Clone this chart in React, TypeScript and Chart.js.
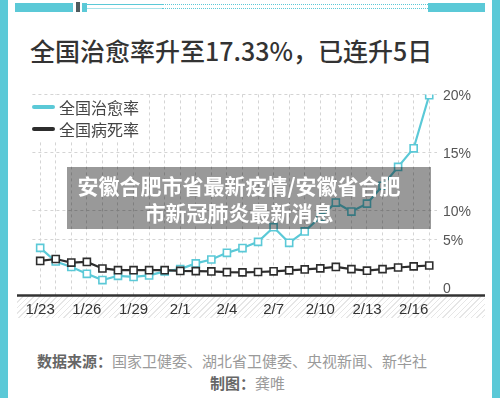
import React, { useEffect, useRef } from 'react';
import { Chart, registerables, LinearScale } from 'chart.js';

// ---------- data ----------
const DATES = [
  '1/23', '1/24', '1/25', '1/26', '1/27', '1/28', '1/29', '1/30', '1/31',
  '2/1', '2/2', '2/3', '2/4', '2/5', '2/6', '2/7', '2/8', '2/9', '2/10',
  '2/11', '2/12', '2/13', '2/14', '2/15', '2/16', '2/17',
];
// 全国治愈率 (%)
const CURE_RATE = [
  4.11, 2.68, 2.1, 1.39, 0.73, 1.18, 1.06, 1.22, 1.65,
  1.88, 2.48, 2.89, 3.59, 4.09, 4.74, 7.08, 4.64, 6.36, 8.81,
  10.65, 9.75, 10.56, 12.11, 13.75, 15.36, 19.93,
];
// 全国病死率 (%)
const DEATH_RATE = [
  2.74, 2.94, 2.57, 2.64, 1.95, 1.77, 1.77, 1.77, 1.77,
  1.69, 1.67, 1.64, 1.56, 1.54, 1.58, 1.65, 1.75, 1.85, 1.96,
  2.11, 1.88, 1.72, 1.88, 2.05, 2.17, 2.26,
];
const Y_TICKS = [0, 5, 10, 15, 20];
const SERIES_NAMES = ['全国治愈率', '全国病死率'];

// The printed axis is not evenly spaced: value -> fraction of the plot height
const Y_STOPS: [number, number][] = [
  [-0.83, 0],
  [0, 0.0396],
  [5, 0.2772],
  [10, 0.4233],
  [15, 0.7104],
  [20, 1],
];

const CYAN = '#5bc9d7';
const DARK = '#2d2d2d';
const GRID = '#d4d4d4';

function valueToFraction(v: number): number {
  const s = Y_STOPS;
  if (v <= s[0][0]) return s[0][1];
  for (let i = 1; i < s.length; i++) {
    if (v <= s[i][0]) {
      const [v0, f0] = s[i - 1];
      const [v1, f1] = s[i];
      return f0 + ((v - v0) / (v1 - v0)) * (f1 - f0);
    }
  }
  const [va, fa] = s[s.length - 2];
  const [vb, fb] = s[s.length - 1];
  return fb + ((v - vb) / (vb - va)) * (fb - fa);
}
function fractionToValue(f: number): number {
  const s = Y_STOPS;
  for (let i = 1; i < s.length; i++) {
    if (f <= s[i][1]) {
      const [v0, f0] = s[i - 1];
      const [v1, f1] = s[i];
      return v0 + ((f - f0) / (f1 - f0)) * (v1 - v0);
    }
  }
  return s[s.length - 1][0];
}

class BrokenLinearScale extends LinearScale {
  static id = 'brokenLinear';
  static defaults = LinearScale.defaults;
  getPixelForValue(value: any) {
    if (value === null || value === undefined || isNaN(value)) return NaN;
    return this.getPixelForDecimal(valueToFraction(+value));
  }
  getValueForPixel(pixel: number) {
    return fractionToValue(this.getDecimalForPixel(pixel));
  }
}

Chart.register(...registerables, BrokenLinearScale);

const axisLinePlugin = {
  id: 'thickAxisLine',
  afterDraw(chart: any) {
    const { ctx, chartArea } = chart;
    ctx.save();
    ctx.strokeStyle = '#333';
    ctx.lineWidth = 2.5;
    ctx.beginPath();
    ctx.moveTo(0, chartArea.bottom + 0.5);
    ctx.lineTo(chart.width, chartArea.bottom + 0.5);
    ctx.stroke();
    ctx.restore();
  },
};

const NUM_FONT = '"Liberation Sans", Arial, sans-serif';
const CJK_FONT = '"Noto Sans CJK SC", "Noto Sans", sans-serif';

function RateChart() {
  const ref = useRef<HTMLCanvasElement | null>(null);
  useEffect(() => {
    if (!ref.current) return;
    const chart = new Chart(ref.current, {
      type: 'line',
      data: {
        labels: DATES,
        datasets: [
          {
            label: SERIES_NAMES[0],
            data: CURE_RATE,
            borderColor: CYAN,
            backgroundColor: '#fff',
            pointBackgroundColor: '#fff',
            pointBorderColor: CYAN,
            pointStyle: 'rect',
            pointRadius: 5,
            pointBorderWidth: 1.6,
            borderWidth: 2.2,
            tension: 0,
            order: 1,
          },
          {
            label: SERIES_NAMES[1],
            data: DEATH_RATE,
            borderColor: DARK,
            backgroundColor: '#fff',
            pointBackgroundColor: '#fff',
            pointBorderColor: DARK,
            pointStyle: 'rect',
            pointRadius: 5,
            pointBorderWidth: 1.6,
            borderWidth: 2.2,
            tension: 0,
            order: 0,
          },
        ],
      },
      options: {
        responsive: false,
        animation: false,
        layout: { padding: { left: 15.4, top: 13, right: 0, bottom: 0 } },
        plugins: { legend: { display: false }, tooltip: { enabled: false } },
        scales: {
          x: {
            type: 'category',
            offset: true,
            grid: { offset: false, color: GRID, drawTicks: false, lineWidth: 1 },
            border: { display: false, dash: [3, 3] },
            ticks: {
              autoSkip: false,
              maxRotation: 0,
              padding: 6,
              color: '#333',
              font: { family: NUM_FONT, size: 15 },
              callback: (_v: any, i: number) => (i % 3 === 0 ? DATES[i] : ''),
            },
          },
          y: {
            type: 'brokenLinear' as any,
            position: 'right',
            min: Y_STOPS[0][0],
            max: Y_TICKS[Y_TICKS.length - 1],
            afterBuildTicks: (s: any) => {
              s.ticks = Y_TICKS.map((value) => ({ value }));
            },
            afterFit: (s: any) => {
              s.width = 48;
            },
            grid: {
              color: (c: any) => (c.tick && c.tick.value === 0 ? 'rgba(0,0,0,0)' : GRID),
              drawTicks: false,
              lineWidth: 1,
            },
            border: { display: false, dash: [3, 3] },
            ticks: {
              padding: 6,
              labelOffset: 2,
              color: '#555',
              font: { family: NUM_FONT, size: 14 },
              callback: (v: any) => (v === 0 ? '0' : v + '%'),
            },
          },
        },
      } as any,
      plugins: [axisLinePlugin],
    });
    return () => chart.destroy();
  }, []);
  return <canvas ref={ref} width={468} height={245} style={{ display: 'block', width: 468, height: 245 }} />;
}

export default function App() {
  const abs = (l: number, t: number, w?: number, h?: number): React.CSSProperties => ({
    position: 'absolute',
    left: l,
    top: t,
    width: w,
    height: h,
  });
  return (
    <div style={{ position: 'absolute', left: 0, top: 0, width: 500, height: 398, background: '#fff', overflow: 'hidden', fontFamily: CJK_FONT }}>
      {/* frame */}
      <div style={{ ...abs(0, 0, 8, 398), background: CYAN }} />
      <div style={{ ...abs(492, 0, 8, 398), background: CYAN }} />
      <div style={{ ...abs(15, 3, 58, 9), background: CYAN }} />
      <div style={{ ...abs(76, 2, 4, 10), background: '#4f5b5e' }} />
      <div style={{ ...abs(82, 3, 5, 9), background: CYAN }} />
      <div style={{ ...abs(87, 4, 75, 1), background: CYAN }} />
      <div style={{ ...abs(87, 8, 75, 1), background: '#a8e3ea' }} />
      <div style={{ ...abs(162, 4, 266, 0), borderTop: `1px dotted ${CYAN}` }} />
      <div style={{ ...abs(162, 8, 266, 0), borderTop: `1px dotted ${CYAN}` }} />
      <div style={{ ...abs(428, 3, 57, 9), background: CYAN }} />

      {/* title */}
      <div style={{ ...abs(30, 36), fontSize: 25, lineHeight: '28px', fontWeight: 500, color: '#333', whiteSpace: 'nowrap' }}>
        全国治愈率升至17.33%，已连升5日
      </div>

      {/* hatched band under x axis */}
      <div
        style={{
          ...abs(17, 296, 468, 22),
          background: 'repeating-linear-gradient(135deg, #e6e6e6 0px, #e6e6e6 1px, #ffffff 1px, #ffffff 4px)',
        }}
      />

      {/* chart */}
      <div style={{ ...abs(17, 80, 468, 245) }}>
        <RateChart />
      </div>

      {/* legend */}
      <div style={{ ...abs(32, 95, 115, 45), background: '#fff' }}>
        {SERIES_NAMES.map((name, i) => (
          <div key={name} style={{ position: 'absolute', left: 0, top: 2 + i * 21.6, height: 20, display: 'flex', alignItems: 'center' }}>
            <div style={{ width: 23, height: 4, borderRadius: 2, background: i === 0 ? CYAN : DARK }} />
            <div style={{ marginLeft: 4, fontSize: 16, lineHeight: '20px', color: '#444', whiteSpace: 'nowrap' }}>{name}</div>
          </div>
        ))}
      </div>

      {/* overlay caption */}
      <div style={{ ...abs(67, 167, 364, 62), background: 'rgba(0,0,0,0.4)' }}>
        <div
          style={{
            position: 'absolute',
            left: 0,
            top: 4.5,
            width: 344,
            textAlign: 'center',
            color: '#fff',
            fontWeight: 700,
            fontSize: 21,
            lineHeight: '27px',
            whiteSpace: 'nowrap',
          }}
        >
          安徽合肥市省最新疫情/安徽省合肥
          <br />
          市新冠肺炎最新消息
        </div>
      </div>

      {/* footer */}
      <div style={{ ...abs(37, 352), fontSize: 15, lineHeight: '18px', whiteSpace: 'nowrap' }}>
        <span style={{ color: '#666', fontWeight: 700 }}>数据来源：</span>
        <span style={{ color: '#9a9a9a' }}>国家卫健委、湖北省卫健委、央视新闻、新华社</span>
      </div>
      <div style={{ ...abs(210, 374), fontSize: 15, lineHeight: '18px', whiteSpace: 'nowrap' }}>
        <span style={{ color: '#666', fontWeight: 700 }}>制图：</span>
        <span style={{ color: '#9a9a9a' }}>龚唯</span>
      </div>
    </div>
  );
}
